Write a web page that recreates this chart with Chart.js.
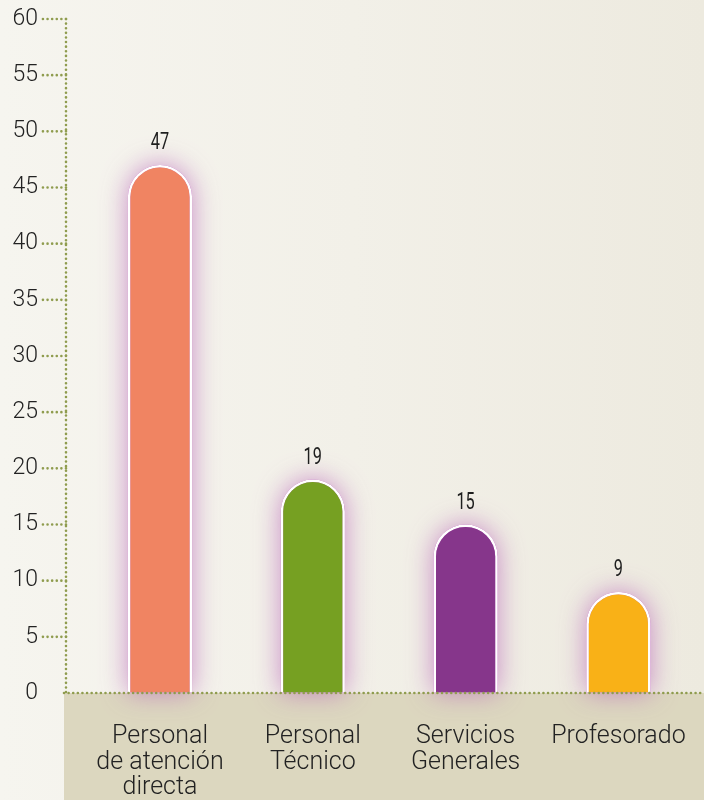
<!DOCTYPE html>
<html><head><meta charset="utf-8">
<script src="https://cdn.jsdelivr.net/npm/chart.js@4/dist/chart.umd.min.js"></script>
<style>
html,body{margin:0;padding:0;}
body{width:704px;height:800px;background:linear-gradient(90deg,#f6f5ef 0%,#f2f0e8 50%,#edeadf 100%);overflow:hidden;}
#wrap{position:relative;width:704px;height:800px;}
</style></head>
<body><div id="wrap"><canvas id="c" width="704" height="800"></canvas></div>
<script>
const categories = [["Personal","de atención","directa"],["Personal","Técnico"],["Servicios","Generales"],["Profesorado"]];
const values = [47, 19, 15, 9];
const colors = ["#f08462", "#76a022", "#86368b", "#f9b117"];
const yTicks = [0,5,10,15,20,25,30,35,40,45,50,55,60];

const OLIVE = '#8f9c4e';

function dotted(ctx, x1, y1, x2, y2) {
  ctx.save();
  ctx.strokeStyle = OLIVE;
  ctx.lineWidth = 2.6;
  ctx.lineCap = 'round';
  ctx.setLineDash([0.01, 4.6]);
  ctx.beginPath();
  ctx.moveTo(x1, y1);
  ctx.lineTo(x2, y2);
  ctx.stroke();
  ctx.restore();
}

const bandPlugin = {
  id: 'band',
  beforeDraw(chart) {
    const ctx = chart.ctx, a = chart.chartArea;
    ctx.save();
    ctx.fillStyle = '#dcd7bf';
    ctx.fillRect(a.left - 2, a.bottom, chart.width - (a.left - 2), chart.height - a.bottom);
    ctx.restore();
  },
  afterDraw(chart) {
    const ctx = chart.ctx, a = chart.chartArea, ys = chart.scales.y;
    dotted(ctx, a.left, a.top, a.left, a.bottom);
    ys.ticks.forEach(t => {
      if (t.value === 0) return;
      const py = ys.getPixelForValue(t.value);
      dotted(ctx, a.left, py, a.left - 26, py);
    });
    dotted(ctx, a.left - 2, a.bottom, chart.width, a.bottom);
  }
};
const glowPlugin = {
  id: 'glow',
  beforeDatasetsDraw(chart) {
    const ctx = chart.ctx;
    const meta = chart.getDatasetMeta(0);
    meta.data.forEach((el) => {
      const w = el.width, x0 = el.x - w / 2, top = el.y, bottom = el.base, r = w / 2;
      ctx.save();
      ctx.shadowColor = 'rgba(185,105,185,0.75)';
      ctx.shadowBlur = 26;
      ctx.fillStyle = 'rgba(200,130,200,1)';
      ctx.beginPath();
      ctx.moveTo(x0, bottom);
      ctx.lineTo(x0, top + r);
      ctx.arc(el.x, top + r, r, Math.PI, 0);
      ctx.lineTo(x0 + w, bottom);
      ctx.closePath();
      ctx.fill();
      ctx.restore();
    });
  },
  afterDatasetsDraw(chart) {
    const ctx = chart.ctx;
    const meta = chart.getDatasetMeta(0);
    ctx.save();
    ctx.fillStyle = '#1e1e1e';
    ctx.font = '400 24px Roboto, sans-serif';
    ctx.textAlign = 'center';
    ctx.textBaseline = 'middle';
    meta.data.forEach((el, i) => {
      ctx.save();
      ctx.translate(el.x, el.y - 22);
      ctx.scale(0.68, 1);
      ctx.fillText(String(values[i]), 0, 0);
      ctx.restore();
    });
    ctx.restore();
  }
};

new Chart(document.getElementById('c'), {
  type: 'bar',
  data: {
    datasets: [{
      data: values.map((v, i) => ({x: i + 1, y: v})),
      backgroundColor: colors,
      borderColor: '#ffffff',
      borderWidth: 2.5,
      borderSkipped: 'bottom',
      borderRadius: {topLeft: 32, topRight: 32, bottomLeft: 0, bottomRight: 0},
      barPercentage: 0.42,
      categoryPercentage: 1
    }]
  },
  options: {
    responsive: false,
    animation: false,
    devicePixelRatio: 1,
    layout: {padding: {top: 19, right: 0, left: 0, bottom: 0}},
    plugins: {legend: {display: false}, tooltip: {enabled: false}},
    scales: {
      x: {
        type: 'linear',
        offset: false,
        bounds: 'data',
        min: 0.385,
        max: 4.56,
        afterBuildTicks: (s) => { s.ticks = categories.map((c, i) => ({value: i + 1})); },
        afterFit: (s) => { s.height = 107; s.paddingLeft = 0; s.paddingRight = 0; },
        grid: {display: false},
        border: {display: false},
        ticks: {
          autoSkip: false,
          maxRotation: 0,
          padding: 23,
          color: '#222',
          font: {family: 'Roboto', size: 25, weight: '300', lineHeight: 1.02},
          callback: (v) => categories[Math.round(v) - 1] || ''
        }
      },
      y: {
        min: 0,
        max: 60,
        afterBuildTicks: (s) => { s.ticks = yTicks.map(v => ({value: v})); },
        afterFit: (s) => { s.width = 66; },
        grid: {
          drawOnChartArea: false,
          drawTicks: true,
          tickLength: 26,
          tickColor: 'rgba(0,0,0,0)'
        },
        border: {display: false},
        ticks: {
          padding: 2,
          color: '#222',
          font: {family: 'Roboto', size: 23, weight: '300'}
        }
      }
    }
  },
  plugins: [bandPlugin, glowPlugin]
});
</script></body></html>
